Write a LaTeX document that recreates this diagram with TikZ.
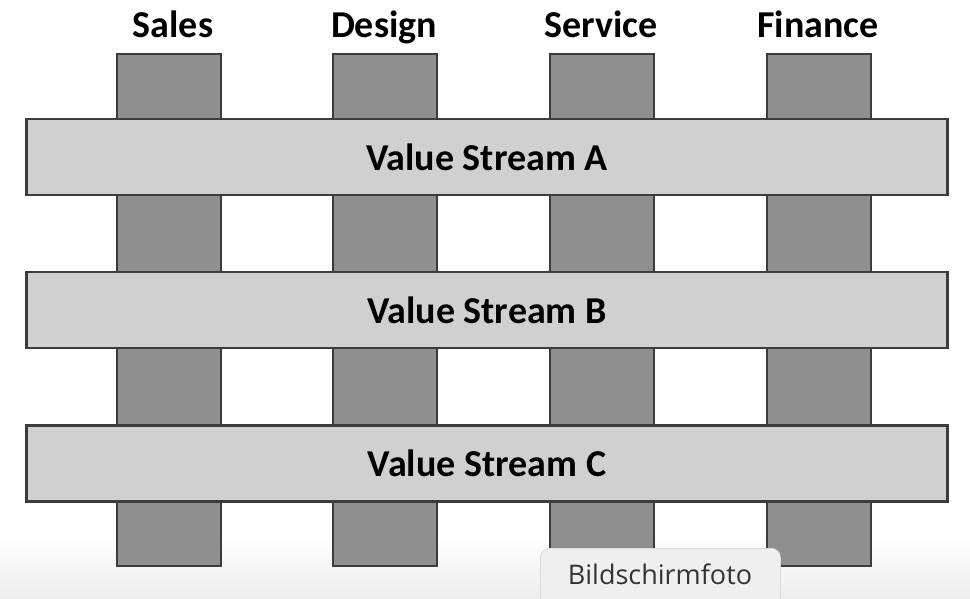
\documentclass[tikz,border=0pt]{standalone}
\usepackage{fontspec}
\setmainfont{Carlito}
\newfontfamily\badgefont{Open Sans}
\usetikzlibrary{positioning}

\definecolor{deptgray}{HTML}{8F8F8F}
\definecolor{streamgray}{HTML}{D0D0D0}
\definecolor{edgegray}{HTML}{3C3C3C}
\definecolor{badgefill}{HTML}{EFEFEF}
\definecolor{badgeedge}{HTML}{DADADA}
\definecolor{badgetext}{HTML}{333333}

\begin{document}
\begin{tikzpicture}[
  x=1pt, y=-1pt,
  dept/.style={draw=edgegray, fill=deptgray, line width=2.2pt, minimum width=104pt, minimum height=512pt, inner sep=0pt},
  stream/.style={draw=edgegray, fill=streamgray, line width=2.2pt, minimum width=921pt, minimum height=76pt, inner sep=0pt,
    font=\fontsize{38}{42}\selectfont\bfseries},
  deptlabel/.style={font=\fontsize{38}{42}\selectfont\bfseries, anchor=base, inner sep=0pt},
  badge/.style={draw=badgeedge, fill=badgefill, line width=0.8pt, rounded corners=9pt, minimum width=240pt, minimum height=70pt,
    inner sep=0pt, anchor=north west}
]
\useasboundingbox (0,0) rectangle (970,598);
\clip (0,0) rectangle (970,598);
\shade[top color=white, bottom color=black!7] (0,535) rectangle (970,598);

% departments
\foreach \name/\cx/\lx in {Sales/169/173, Design/385/384, Service/602/601, Finance/819/818} {
  \node[dept] (\name) at (\cx,310) {};
  \node[deptlabel] (\name-label) at (\lx,37) {\name};
}

% value streams
\foreach \id/\cy in {A/157, B/310, C/463.5} {
  \node[stream] (stream\id) at (487,\cy) {Value Stream \id};
}

\node[badge] (shot) at (540,548) {};
\node[font=\badgefont\fontsize{27}{30}\selectfont, text=badgetext, inner sep=0pt, anchor=base] (shot-text) at (660,584) {Bildschirmfoto};
\end{tikzpicture}
\end{document}
